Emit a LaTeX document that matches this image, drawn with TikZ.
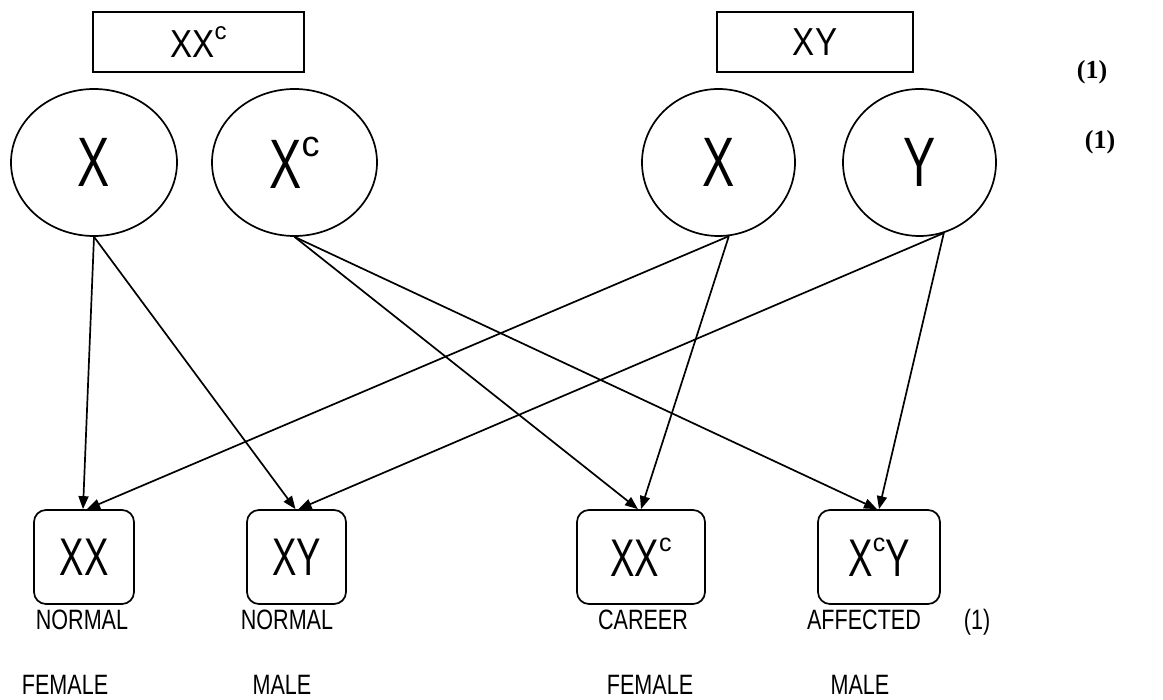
\documentclass[tikz,border=0pt]{standalone}
\usepackage{fontspec}
\setmainfont[FakeStretch=0.77]{Liberation Sans}
\newfontfamily\bigfont[FakeStretch=0.69]{Liberation Sans}
\newfontfamily\pairfont[FakeStretch=0.85]{Liberation Sans}
\newfontfamily\cfont{Liberation Sans}
\newfontfamily\timesbf{Liberation Serif}
\usetikzlibrary{shapes.geometric}
\usetikzlibrary{arrows.meta}
\newcommand{\fs}[1]{\fontsize{#1}{#1}\selectfont}
\newcommand{\supc}[2]{\raisebox{#2}{\cfont\fs{#1}c}}
\tikzset{x=1pt, y=-1pt,
    gene/.style={
        draw, ellipse,
        line width=1.7pt,
        inner sep=0pt,
        minimum width=166pt,
        minimum height=147pt,
        font=\bigfont\fs{70}},
    pair/.style={
        draw,
        line width=1.7pt,
        minimum height=60pt,
        font=\pairfont\fs{39}},
    child/.style={
        draw,
        rounded corners=12pt,
        line width=1.7pt,
        minimum height=94pt,
        font=\bigfont\fs{53}},
    note/.style={font=\fs{28}},
    score/.style={font=\timesbf\bfseries\fs{26}},
    every edge/.style={
        draw,
        -{Triangle[length=13pt,width=10pt]},
        line width=1.7pt}}

\begin{document}
\begin{tikzpicture}
        \useasboundingbox (0,0) rectangle (1163,700);

        \node[pair, minimum width=211pt] (mom) at (198.5,42) {XX\supc{24}{18pt}};
        \node[pair, minimum width=196pt] (dad) at (815,42) {XY};

        \node[gene] (x1) at (94,162.5) {X};
        \node[gene, minimum width=165pt] (xc) at (294.5,162.5) {X\supc{36}{32pt}};
        \node[gene, minimum width=153pt] (x2) at (718.5,162.5) {X};
        \node[gene, minimum width=153pt] (y) at (919.5,162.5) {Y};

        \node[score] (m1) at (1092,72) {(1)};
        \node[score] (m2) at (1100,142) {(1)};

        \node[child, minimum width=100pt] (xx) at (84,557) {XX};
        \node[child, minimum width=99pt] (xy) at (296.5,557) {XY};
        \node[child, minimum width=128pt] (xxc) at (641,557) {XX\supc{25}{25pt}};
        \node[child, minimum width=122pt] (xcy) at (879,557) {X\supc{25}{25pt}Y};

        \node[note] (n1) at (82,620) {NORMAL};
        \node[note] (n2) at (287,620) {NORMAL};
        \node[note] (n3) at (643,620) {CAREER};
        \node[note] (n4) at (864,620) {AFFECTED};
        \node[note] (n5) at (977,622) {(1)};

        \node[note] (s1) at (65,685) {FEMALE};
        \node[note] (s2) at (282,685) {MALE};
        \node[note] (s3) at (650,685) {FEMALE};
        \node[note] (s4) at (860,685) {MALE};

        \draw (x1.south) edge ([xshift=-1pt]xx.north);
        \draw (x1.south) edge ([xshift=-1pt]xy.north);

        \draw (xc.south) edge ([xshift=-3pt]xxc.north);
        \draw (xc.south) edge ([xshift=-2pt]xcy.north);

        \draw (x2.-82) edge ([xshift=3pt]xx.north);
        \draw (x2.-82) edge (xxc.north);

        \draw (y.-71) edge ([xshift=2pt]xy.north);
        \draw (y.-71) edge (xcy.north);
    \end{tikzpicture}
\end{document}
